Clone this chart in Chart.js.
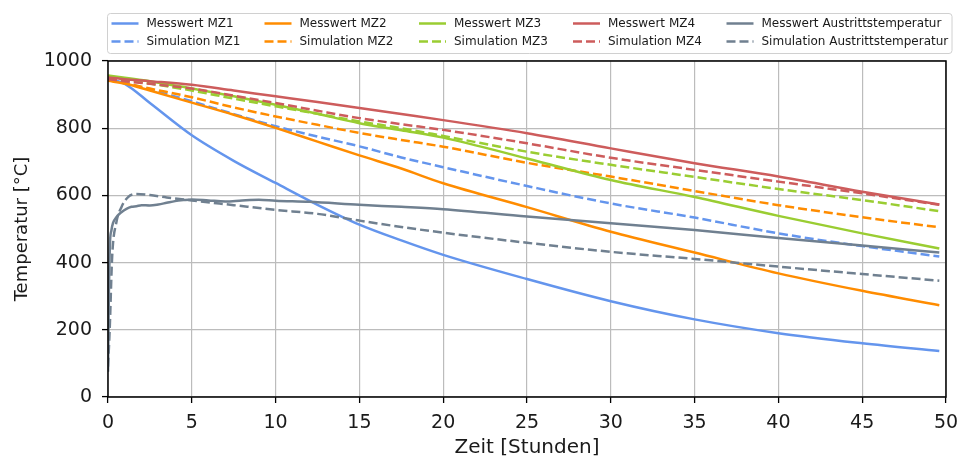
<!DOCTYPE html>
<html><head><meta charset="utf-8">
<script src="https://cdn.jsdelivr.net/npm/chart.js@4.4.0/dist/chart.umd.min.js"></script>
<style>html,body{margin:0;padding:0;background:#fff;}#wrap{width:959px;height:457px;}</style>
</head><body><div id="wrap"><canvas id="c" width="959" height="457"></canvas></div>
<script>
// ---- data ----
const xTicks = [0, 5, 10, 15, 20, 25, 30, 35, 40, 45, 50];
const yTicks = [0, 200, 400, 600, 800, 1000];

const tZone = [0, 1, 2.5, 5, 7.5, 10, 12.5, 15, 17.5, 20, 25, 30, 35, 40, 45, 49.6];
const messMZ1 = [948, 932, 875, 779, 703, 637, 572, 513, 466, 423, 351, 285, 231, 190, 160, 137];
const simMZ1  = [945, 935, 915, 880, 842, 806, 775, 746, 713, 684, 628, 576, 534, 487, 449, 418];
const messMZ2 = [941, 933, 912, 876, 840, 801, 760, 719, 680, 636, 565, 492, 430, 368, 316, 273];
const simMZ2  = [943, 934, 918, 892, 862, 835, 810, 786, 765, 745, 697, 656, 613, 571, 535, 505];
const messMZ3 = [957, 950, 940, 918, 895, 870, 843, 815, 794, 772, 710, 646, 595, 539, 487, 442];
const simMZ3  = [950, 944, 933, 912, 888, 865, 843, 820, 800, 777, 730, 691, 655, 619, 586, 553];
const messMZ4 = [951, 946, 940, 929, 912, 895, 878, 860, 842, 824, 785, 740, 696, 656, 611, 573];
const simMZ4  = [946, 940, 932, 918, 897, 875, 852, 830, 812, 795, 755, 712, 676, 641, 606, 572];

const tMessAus = [0, 0.05, 0.12, 0.2, 0.3, 0.5, 0.8, 1.1, 1.4, 1.7, 2, 2.5, 3, 3.5, 4, 4.5, 5, 6, 7, 8, 9, 10, 12, 15, 17.5, 20, 25, 30, 35, 40, 45, 49.6];
const messAus  = [75, 300, 460, 495, 518, 535, 550, 560, 566, 568, 571, 570, 573, 578, 583, 586, 588, 585, 582, 585, 587, 584, 581, 572, 566, 559, 537, 517, 497, 473, 451, 430];
const tSimAus = [0, 0.1, 0.25, 0.5, 0.8, 1.2, 1.7, 2.5, 3.5, 5, 7.5, 10, 12.5, 15, 17.5, 20, 25, 30, 35, 40, 45, 49.6];
const simAus  = [90, 200, 420, 520, 565, 595, 604, 601, 594, 585, 571, 557, 545, 525, 506, 489, 459, 432, 411, 388, 366, 346];

const labels = ['Messwert MZ1','Simulation MZ1','Messwert MZ2','Simulation MZ2','Messwert MZ3','Simulation MZ3','Messwert MZ4','Simulation MZ4','Messwert Austrittstemperatur','Simulation Austrittstemperatur'];
const colors = ['#6495ED','#6495ED','#FF8C00','#FF8C00','#9ACD32','#9ACD32','#CD5C5C','#CD5C5C','#708090','#708090'];

// ---- build datasets ----
const pts = (ts, vs) => ts.map((t, i) => ({x: t, y: vs[i]}));
const series = [
  pts(tZone, messMZ1), pts(tZone, simMZ1),
  pts(tZone, messMZ2), pts(tZone, simMZ2),
  pts(tZone, messMZ3), pts(tZone, simMZ3),
  pts(tZone, messMZ4), pts(tZone, simMZ4),
  pts(tMessAus, messAus), pts(tSimAus, simAus)
];
const DASH = [9, 4];
const datasets = series.map((d, i) => ({
  label: labels[i],
  data: d,
  borderColor: colors[i],
  backgroundColor: colors[i],
  borderWidth: 2.5,
  borderDash: i % 2 ? DASH : [],
  pointRadius: 0,
  cubicInterpolationMode: 'monotone',
  fill: false,
  order: 10 - i
}));

const FONT = 'DejaVu Sans';

const legendPlugin = {
  id: 'mplLegend',
  afterDraw(chart) {
    const ctx = chart.ctx;
    ctx.save();
    const bx = 107.5, by = 13.5, bw = 844.5, bh = 40;
    ctx.beginPath();
    if (ctx.roundRect) ctx.roundRect(bx, by, bw, bh, 3); else ctx.rect(bx, by, bw, bh);
    ctx.fillStyle = 'rgba(255,255,255,0.85)';
    ctx.fill();
    ctx.strokeStyle = '#d0d0d0';
    ctx.lineWidth = 1;
    ctx.stroke();
    const colX = [111.5, 264.5, 419, 573, 726.5];
    const rowY = [23.5, 41.5];
    ctx.font = '12px "' + FONT + '"';
    ctx.textBaseline = 'middle';
    ctx.textAlign = 'left';
    for (let c = 0; c < 5; c++) {
      for (let r = 0; r < 2; r++) {
        const i = c * 2 + r;
        const x = colX[c], y = rowY[r];
        ctx.beginPath();
        ctx.strokeStyle = colors[i];
        ctx.lineWidth = 2.5;
        ctx.setLineDash(r ? DASH : []);
        ctx.moveTo(x, y); ctx.lineTo(x + 27, y);
        ctx.stroke();
        ctx.setLineDash([]);
        ctx.fillStyle = '#1a1a1a';
        ctx.fillText(labels[i], x + 35, y + 0.5);
      }
    }
    ctx.restore();
  }
};

const framePlugin = {
  id: 'frame',
  afterDatasetsDraw(chart) {
    const {left, top, right, bottom} = chart.chartArea;
    const ctx = chart.ctx;
    ctx.save();
    ctx.strokeStyle = '#000';
    ctx.lineWidth = 1.5;
    ctx.strokeRect(left, top, right - left, bottom - top);
    ctx.restore();
  }
};

new Chart(document.getElementById('c'), {
  type: 'line',
  data: { datasets },
  plugins: [framePlugin, legendPlugin],
  options: {
    responsive: false,
    animation: false,
    devicePixelRatio: 1,
    layout: { padding: { left: 0, top: 61, right: 13, bottom: 0 } },
    plugins: { legend: { display: false }, tooltip: { enabled: false } },
    scales: {
      x: {
        type: 'linear', min: 0, max: 50,
        afterFit(s) { s.height = 60; s.paddingLeft = 0; s.paddingRight = 0; },
        afterBuildTicks(s) { s.ticks = xTicks.map(v => ({value: v})); },
        ticks: { font: { family: FONT, size: 19 }, color: '#1a1a1a', padding: 9,
                 callback: v => String(v) },
        grid: { color: '#bcbcbc', lineWidth: 1.2, tickColor: '#000', tickWidth: 1.3, tickLength: 6 },
        border: { display: false },
        title: { display: true, text: 'Zeit [Stunden]', color: '#1a1a1a',
                 font: { family: FONT, size: 20, lineHeight: 1 }, padding: { top: 0, bottom: -1 } }
      },
      y: {
        type: 'linear', min: 0, max: 1000,
        afterFit(s) { s.width = 108; s.paddingTop = 0; s.paddingBottom = 0; },
        afterBuildTicks(s) { s.ticks = yTicks.map(v => ({value: v})); },
        ticks: { font: { family: FONT, size: 19 }, color: '#1a1a1a', padding: 10,
                 callback: v => String(v) },
        grid: { color: '#bcbcbc', lineWidth: 1.2, tickColor: '#000', tickWidth: 1.3, tickLength: 6 },
        border: { display: false },
        title: { display: true, text: 'Temperatur [°C]', color: '#1a1a1a',
                 font: { family: FONT, size: 18, lineHeight: 1.2 }, padding: { top: 12, bottom: 0 } }
      }
    }
  }
});
</script>
</body></html>
